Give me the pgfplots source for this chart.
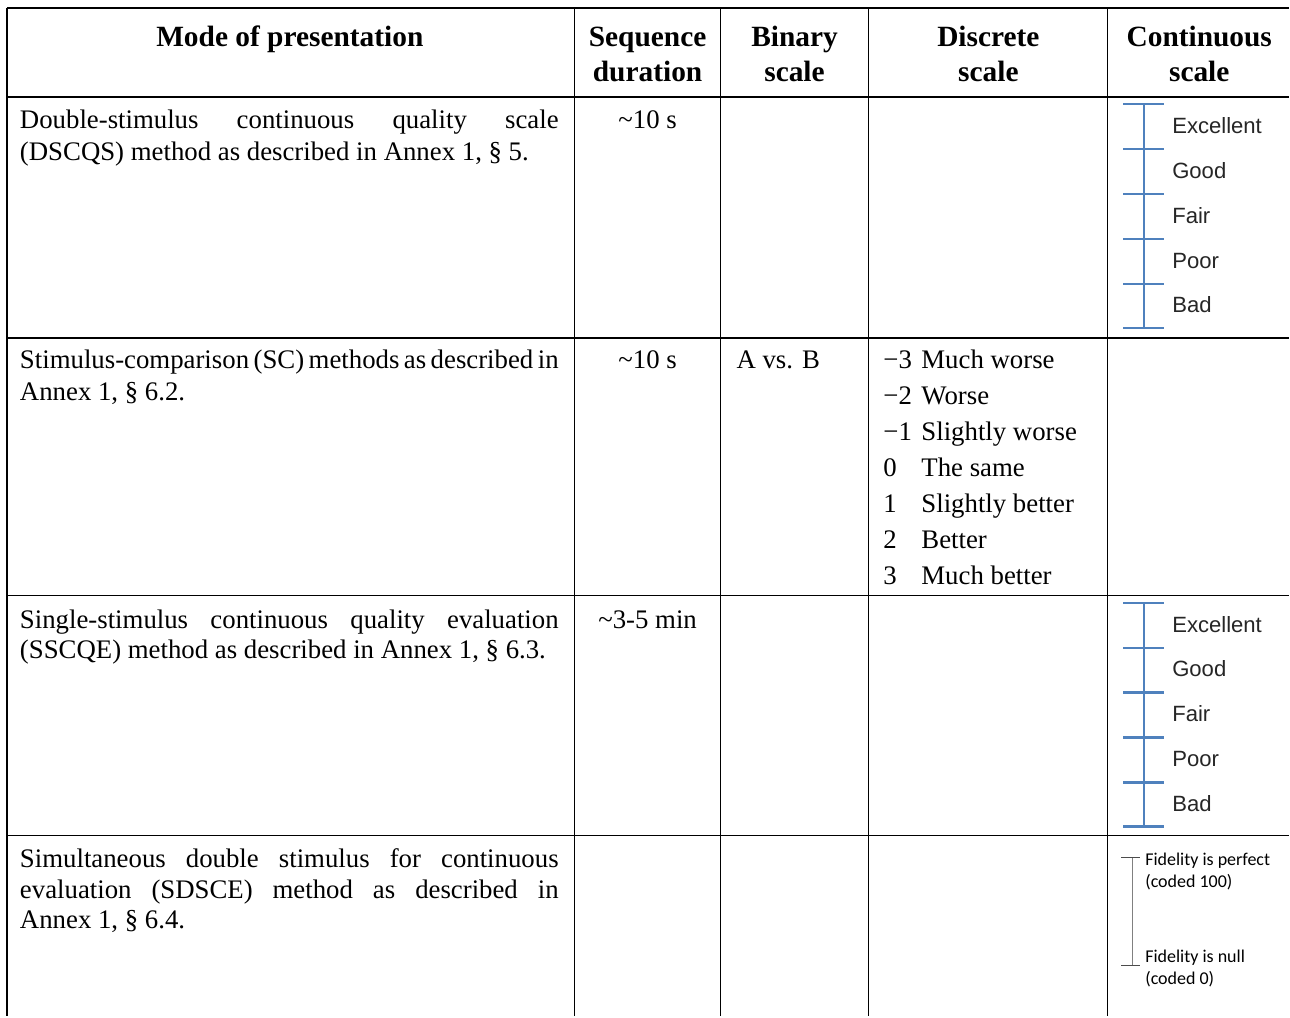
\documentclass[border=0pt]{standalone}
\usepackage{pgfplots}
\pgfplotsset{compat=1.18}
\usepackage{fontspec}
\setmainfont{Liberation Serif}
\newfontfamily\arial{Liberation Sans}
\newfontfamily\calibri{Carlito}
\definecolor{scaleblue}{RGB}{79,129,189}
\definecolor{fidgray}{RGB}{128,128,128}
\newcommand{\body}{\fontsize{13.4}{15}\selectfont}
\newcommand{\head}{\fontsize{14.7}{17}\selectfont\bfseries}
\newcommand{\jl}[1]{\makebox[269.5pt][s]{#1}}
\newcommand{\sca}{\arial\fontsize{11.05}{13}\selectfont}
\newcommand{\fid}{\calibri\fontsize{9}{11}\selectfont}
\begin{document}
\begin{tikzpicture}
\begin{axis}[
  width=645pt, height=508.5pt, scale only axis,
  xmin=0, xmax=1290, ymin=0, ymax=1017, y dir=reverse,
  hide axis, clip=false,
  tl/.style={black, line width=0.8pt, forget plot},
  bl/.style={scaleblue, line width=1.1pt, forget plot},
]
\path (axis cs:0,0) rectangle (axis cs:1290,1017);
% table grid
\addplot[tl] coordinates {(7,8) (1290,8)};
\addplot[tl] coordinates {(7,97) (1290,97)};
\addplot[tl] coordinates {(7,338) (1290,338)};
\addplot[tl] coordinates {(7,596) (1290,596)};
\addplot[tl] coordinates {(7,836) (1290,836)};
\addplot[tl] coordinates {(7,8) (7,1017)};
\addplot[tl] coordinates {(575,8) (575,1017)};
\addplot[tl] coordinates {(721,8) (721,1017)};
\addplot[tl] coordinates {(869,8) (869,1017)};
\addplot[tl] coordinates {(1108,8) (1108,1017)};
% continuous scale row 1
\addplot[bl] coordinates {(1145,104) (1145,328)};
\addplot[bl] coordinates {(1124,104) (1165,104)};
\addplot[bl] coordinates {(1124,149) (1165,149)};
\addplot[bl] coordinates {(1124,194) (1165,194)};
\addplot[bl] coordinates {(1124,239) (1165,239)};
\addplot[bl] coordinates {(1124,284) (1165,284)};
\addplot[bl] coordinates {(1124,328) (1165,328)};
% continuous scale row 3
\addplot[bl] coordinates {(1145,603) (1145,827)};
\addplot[bl] coordinates {(1124,603) (1165,603)};
\addplot[bl] coordinates {(1124,648) (1165,648)};
\addplot[bl] coordinates {(1124,693) (1165,693)};
\addplot[bl] coordinates {(1124,738) (1165,738)};
\addplot[bl] coordinates {(1124,783) (1165,783)};
\addplot[bl] coordinates {(1124,827) (1165,827)};
% fidelity scale row 4
\addplot[fidgray, line width=0.6pt, forget plot] coordinates {(1133,858) (1133,966)};
\addplot[black!70, line width=0.5pt, forget plot] coordinates {(1122,858) (1141,858)};
\addplot[black!70, line width=0.5pt, forget plot] coordinates {(1122,966) (1141,966)};

\begin{scope}[every node/.style={inner sep=0pt, outer sep=0pt}]
% headers
\node[anchor=base, font=\head] at (axis cs:290,47) {Mode of presentation};
\node[anchor=base, font=\head] at (axis cs:648,47) {Sequence};
\node[anchor=base, font=\head] at (axis cs:648,82) {duration};
\node[anchor=base, font=\head] at (axis cs:795,47) {Binary};
\node[anchor=base, font=\head] at (axis cs:795,82) {scale};
\node[anchor=base, font=\head] at (axis cs:989,47) {Discrete};
\node[anchor=base, font=\head] at (axis cs:989,82) {scale};
\node[anchor=base, font=\head] at (axis cs:1200,47) {Continuous};
\node[anchor=base, font=\head] at (axis cs:1200,82) {scale};

% column 1
\node[anchor=base west, font=\body] at (axis cs:20,129) {\jl{Double-stimulus continuous quality scale}};
\node[anchor=base west, font=\body] at (axis cs:20,161) {(DSCQS) method as described in Annex 1, § 5.};
\node[anchor=base west, font=\body] at (axis cs:20,369) {\jl{Stimulus-comparison (SC) methods as described in}};
\node[anchor=base west, font=\body] at (axis cs:20,401) {Annex 1, § 6.2.};
\node[anchor=base west, font=\body] at (axis cs:20,629) {\jl{Single-stimulus continuous quality evaluation}};
\node[anchor=base west, font=\body] at (axis cs:20,659) {(SSCQE) method as described in Annex 1, § 6.3.};
\node[anchor=base west, font=\body] at (axis cs:20,868) {\jl{Simultaneous double stimulus for continuous}};
\node[anchor=base west, font=\body] at (axis cs:20,899) {\jl{evaluation (SDSCE) method as described in}};
\node[anchor=base west, font=\body] at (axis cs:20,929) {Annex 1, § 6.4.};

% column 2
\node[anchor=base, font=\body] at (axis cs:648,129) {\textasciitilde10 s};
\node[anchor=base, font=\body] at (axis cs:648,369) {\textasciitilde10 s};
\node[anchor=base, font=\body] at (axis cs:648,629) {\textasciitilde3-5 min};

% column 3
\node[anchor=base west, font=\body] at (axis cs:737,369) {A vs. B};

% column 4
\node[anchor=base west, font=\body] at (axis cs:884,369) {−3};
\node[anchor=base west, font=\body] at (axis cs:922,369) {Much worse};
\node[anchor=base west, font=\body] at (axis cs:884,405) {−2};
\node[anchor=base west, font=\body] at (axis cs:922,405) {Worse};
\node[anchor=base west, font=\body] at (axis cs:884,441) {−1};
\node[anchor=base west, font=\body] at (axis cs:922,441) {Slightly worse};
\node[anchor=base west, font=\body] at (axis cs:884,477) {0};
\node[anchor=base west, font=\body] at (axis cs:922,477) {The same};
\node[anchor=base west, font=\body] at (axis cs:884,513) {1};
\node[anchor=base west, font=\body] at (axis cs:922,513) {Slightly better};
\node[anchor=base west, font=\body] at (axis cs:884,549) {2};
\node[anchor=base west, font=\body] at (axis cs:922,549) {Better};
\node[anchor=base west, font=\body] at (axis cs:884,585) {3};
\node[anchor=base west, font=\body] at (axis cs:922,585) {Much better};

% column 5 labels
\node[anchor=base west, font=\sca, text=black!85] at (axis cs:1173,134) {Excellent};
\node[anchor=base west, font=\sca, text=black!85] at (axis cs:1173,179) {Good};
\node[anchor=base west, font=\sca, text=black!85] at (axis cs:1173,224) {Fair};
\node[anchor=base west, font=\sca, text=black!85] at (axis cs:1173,269) {Poor};
\node[anchor=base west, font=\sca, text=black!85] at (axis cs:1173,313) {Bad};
\node[anchor=base west, font=\sca, text=black!85] at (axis cs:1173,633) {Excellent};
\node[anchor=base west, font=\sca, text=black!85] at (axis cs:1173,677) {Good};
\node[anchor=base west, font=\sca, text=black!85] at (axis cs:1173,722) {Fair};
\node[anchor=base west, font=\sca, text=black!85] at (axis cs:1173,767) {Poor};
\node[anchor=base west, font=\sca, text=black!85] at (axis cs:1173,812) {Bad};
\node[anchor=base west, font=\fid] at (axis cs:1146,866) {Fidelity is perfect};
\node[anchor=base west, font=\fid] at (axis cs:1146,888) {(coded 100)};
\node[anchor=base west, font=\fid] at (axis cs:1146,963) {Fidelity is null};
\node[anchor=base west, font=\fid] at (axis cs:1146,985) {(coded 0)};
\end{scope}
\end{axis}
\end{tikzpicture}
\end{document}
